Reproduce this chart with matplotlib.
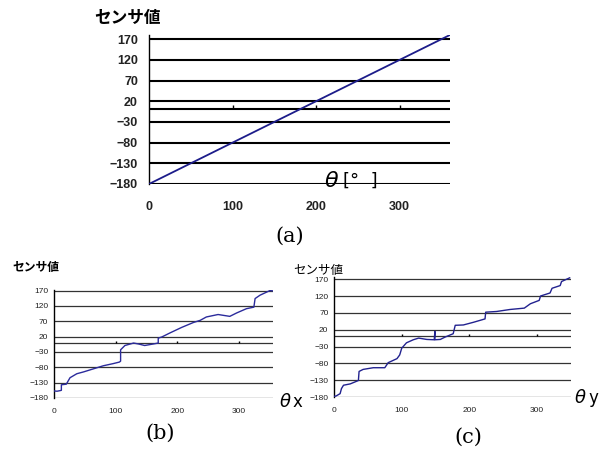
import matplotlib
matplotlib.use("Agg")
import matplotlib.pyplot as plt

# (a) ideal sensor output
theta_a = [0, 360]
sensor_a = [-180, 180]

# (b) measured, rotating about x
theta_b = [0, 5, 10, 12, 12, 20, 26, 37, 48, 64, 80, 96, 106, 108, 108, 115, 129,
           137, 147, 161, 169, 169, 175, 188, 207, 226, 237, 247, 266, 285, 296,
           312, 324, 326, 334, 350, 355]
sensor_b = [-157, -158, -156, -155, -137, -135, -114, -101, -95, -85, -75, -68,
            -63, -60, -23, -9, -1, -4, -9, -4, -1, 15, 19, 32, 50, 66, 73, 84, 92,
            86, 97, 111, 116, 144, 155, 170, 169]

# (c) measured, rotating about y
theta_c = [0, 3, 9, 11, 14, 24, 36, 37, 43, 58, 75, 80, 93, 97, 100, 107, 117,
           125, 137, 148, 149, 149, 157, 164, 176, 179, 191, 206, 223, 224, 240,
           260, 281, 290, 303, 305, 319, 322, 334, 336, 348]
sensor_c = [-178, -177, -170, -155, -145, -141, -131, -104, -98, -93, -93, -78,
            -66, -55, -35, -19, -10, -5, -9, -10, 15, -10, -9, -2, 8, 33, 34, 42,
            52, 72, 74, 80, 84, 97, 107, 120, 129, 143, 151, 163, 174]

yticks = [-180, -130, -80, -30, 20, 70, 120, 170]
xticks = [0, 100, 200, 300]

JP = ["Noto Sans CJK JP", "DejaVu Sans"]
NARROW = ["Liberation Sans Narrow", "Liberation Sans", "DejaVu Sans"]


def style_axes(ax, xmax, ymax, grid_lw, grid_color, tick_size, bold, tick_h):
    ax.set_xlim(0, xmax)
    ax.set_ylim(-180, ymax)
    ax.set_yticks(yticks)
    ax.set_xticks(xticks)
    ax.grid(axis="y", color=grid_color, linewidth=grid_lw)
    ax.grid(axis="x", visible=False)
    for side in ("top", "right", "bottom"):
        ax.spines[side].set_visible(False)
    ax.spines["left"].set_color("black")
    ax.spines["left"].set_linewidth(1.0)
    ax.tick_params(length=0, labelsize=tick_size, labelcolor="#222222")
    for lab in ax.get_xticklabels() + ax.get_yticklabels():
        lab.set_family(NARROW)
        lab.set_fontweight("bold" if bold else "normal")
    # x axis crossing at zero with small upward ticks
    ax.axhline(0, color=grid_color, linewidth=grid_lw, zorder=1)
    ax.vlines(xticks[1:], 0, tick_h, color="black", linewidth=1.0)
    ax.set_axisbelow(True)


fig = plt.figure(figsize=(6.14, 4.61), dpi=100)

ax_a = fig.add_axes([0.2427, 0.6009, 0.490, 0.3232])
ax_a.plot(theta_a, sensor_a, color="#1c1c8a", linewidth=1.3, zorder=3)
style_axes(ax_a, 360, 180, 1.5, "black", 9, True, 10)
ax_a.tick_params(axis="x", pad=12)
ax_a.tick_params(axis="y", pad=8)

ax_b = fig.add_axes([0.0879, 0.1367, 0.3567, 0.2343])
ax_b.plot(theta_b, sensor_b, color="#2b2b9c", linewidth=1.0, zorder=3)
style_axes(ax_b, 355, 172, 0.9, "#333333", 6, False, 6)
ax_b.tick_params(axis="x", pad=7)
ax_b.tick_params(axis="y", pad=4)

ax_c = fig.add_axes([0.544, 0.1388, 0.386, 0.260])
ax_c.plot(theta_c, sensor_c, color="#22228f", linewidth=1.0, zorder=3)
style_axes(ax_c, 350, 176, 0.9, "#333333", 6, False, 6)
ax_c.tick_params(axis="x", pad=7)
ax_c.tick_params(axis="y", pad=4)

# axis titles
fig.text(0.153, 0.962, "センサ値", family=JP, fontweight="bold", fontsize=12,
         va="center", ha="left")
fig.text(0.021, 0.419, "センサ値", family=JP, fontweight="bold", fontsize=8.5,
         va="center", ha="left")
fig.text(0.477, 0.414, "センサ値", family=JP, fontsize=9,
         va="center", ha="left")

fig.text(0.528, 0.607, "θ", fontsize=16, style="italic", va="center", ha="left")
fig.text(0.558, 0.607, "[°  ]", fontsize=13, va="center", ha="left")
fig.text(0.455, 0.128, "θ", fontsize=13, style="italic", va="center", ha="left")
fig.text(0.476, 0.128, "x", fontsize=12, va="center", ha="left")
fig.text(0.936, 0.137, "θ", fontsize=13, style="italic", va="center", ha="left")
fig.text(0.958, 0.137, "y", fontsize=12, va="center", ha="left")

# panel labels
fig.text(0.472, 0.488, "(a)", family=["DejaVu Serif"], fontsize=15,
         va="center", ha="center")
fig.text(0.261, 0.061, "(b)", family=["DejaVu Serif"], fontsize=15,
         va="center", ha="center")
fig.text(0.762, 0.052, "(c)", family=["DejaVu Serif"], fontsize=15,
         va="center", ha="center")

fig.savefig("out.png", dpi=100)
plt.close(fig)
